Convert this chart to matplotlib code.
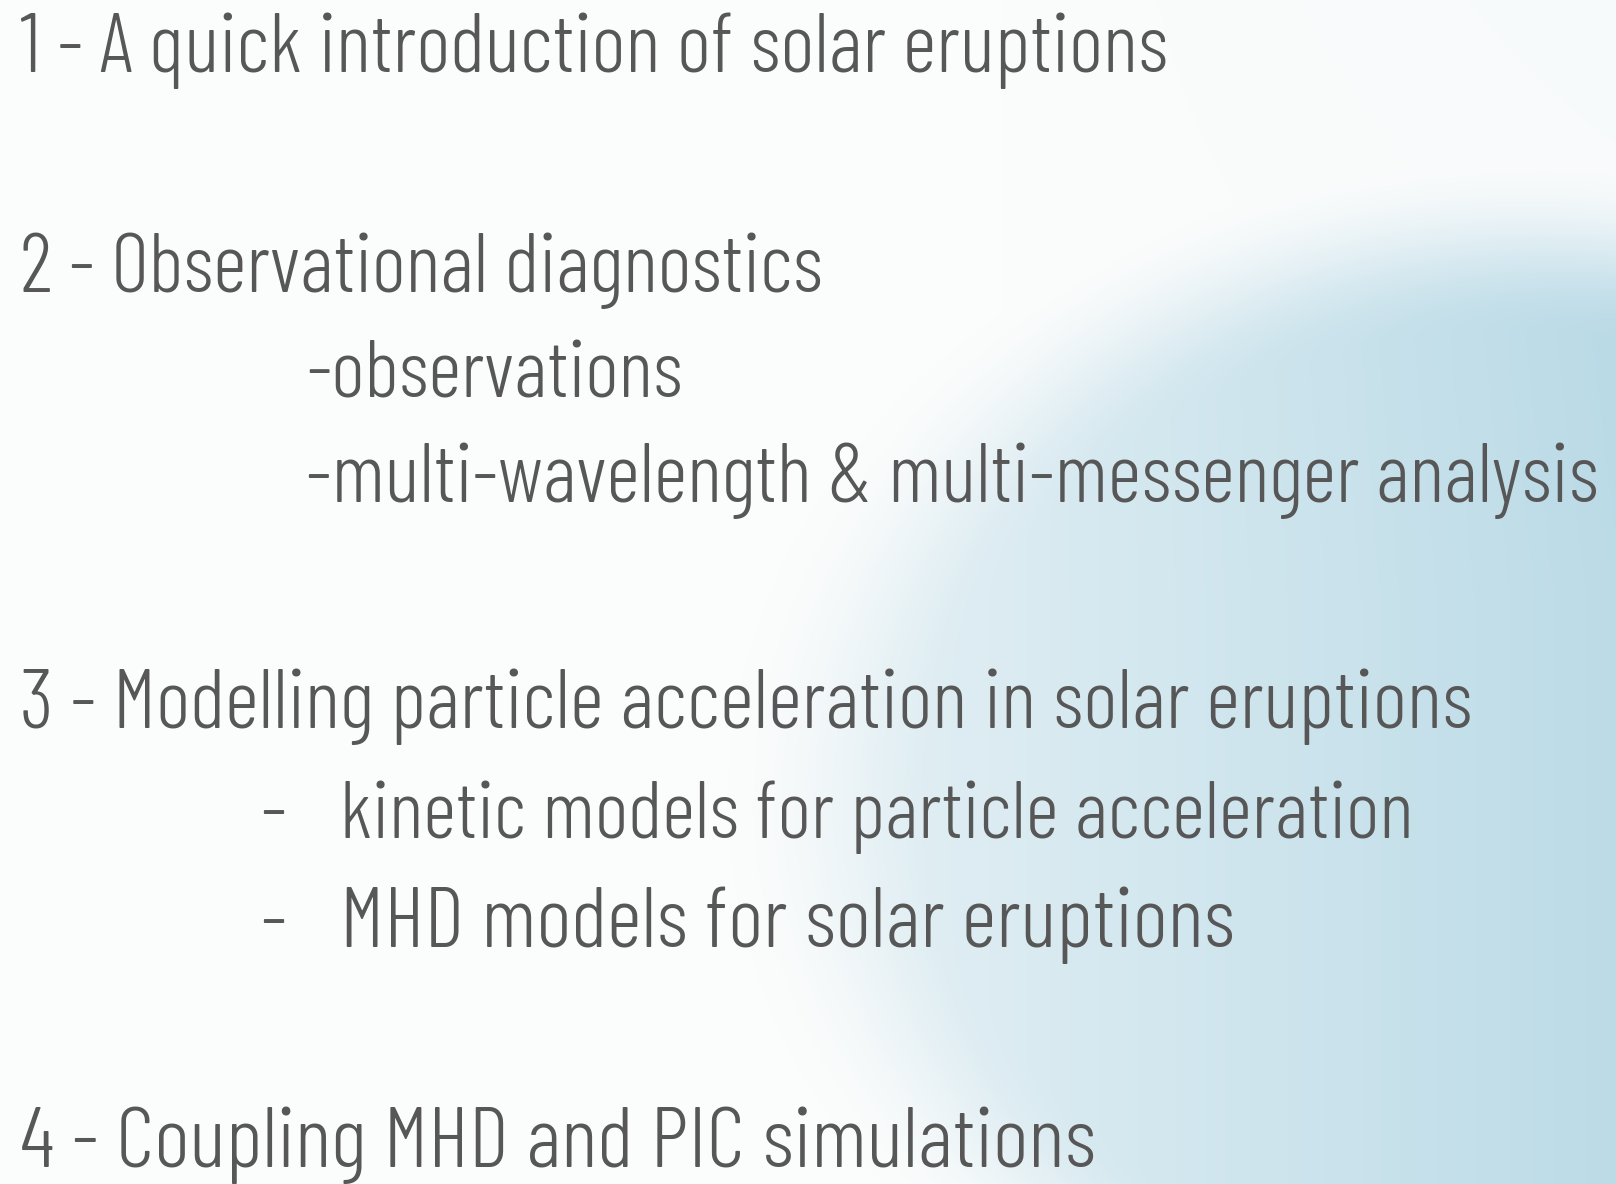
import numpy as np
import matplotlib
matplotlib.use("Agg")
import matplotlib.pyplot as plt
from matplotlib import font_manager as fm
from matplotlib.textpath import TextPath

W, H = 1616, 1184

# Contenido de la diapositiva
headings = ["1 - A quick introduction of solar eruptions",
            "2 - Observational diagnostics",
            "3 - Modelling particle acceleration in solar eruptions",
            "4 - Coupling MHD and PIC simulations"]
heading_base = [72, 292, 728, 1167]          # línea base en px
heading_end = [1165, 821, 1468, 1094]        # borde derecho en la referencia

sub_items = ["-observations",
             "-multi-wavelength & multi-messenger analysis"]
sub_base = [397, 502]
sub_end = [680, 1597]

bullets = ["kinetic models for particle acceleration",
           "MHD models for solar eruptions"]
bullet_base = [838, 947]
bullet_end = [1409, 1232]

txt_color = "#575757"
fam = ["Barlow Condensed", "DejaVu Sans"]
weight = 300

# tamaño de fuente para una altura de mayúscula de ~59 px
fp = fm.FontProperties(family=fam[0], weight=weight)
cap = TextPath((0, 0), "H", size=100, prop=fp).get_extents().height / 100
fs = 59 / cap * 72 / 100

fig = plt.figure(figsize=(W / 100, H / 100), dpi=100)

# Fondo: blanco a la izquierda, remolino azul claro a la derecha
ax = fig.add_axes([0, 0, 1, 1])
ax.set_xlim(0, W)
ax.set_ylim(H, 0)
ax.axis("off")
X, Y = np.meshgrid(np.arange(W), np.arange(H))
d = np.sqrt(((X - 1500) / 690) ** 2 + ((Y - 800) / 570) ** 2)
inside = np.clip((1.12 - d) / 0.30, 0, 1)
inside = inside * inside * (3 - 2 * inside)
t = inside * (0.30 + 0.50 * np.clip((X - 850) / 766, 0, 1))
t += 0.05 * np.clip((X - 1000) / 616, 0, 1) * np.clip(1 - Y / 600, 0, 1)
white = np.array([251, 252, 252]) / 255
blue = np.array([172, 211, 226]) / 255
img = white[None, None, :] * (1 - t[..., None]) + blue[None, None, :] * t[..., None]
ax.imshow(np.clip(img, 0, 1), extent=(0, W, H, 0), aspect="auto", interpolation="bilinear")

def put(x, y, s, x_end=None):
    size = fs
    if x_end is not None:
        w = TextPath((0, 0), s, size=100, prop=fp).get_extents().x1 / 100 * fs * 100 / 72
        size = fs * np.clip((x_end - x) / w, 0.95, 1.05)
    fig.text(x / W, 1 - y / H, s, ha="left", va="baseline", fontsize=size,
             family=fam, weight=weight, color=txt_color)

for s, b, e in zip(headings, heading_base, heading_end):
    put(20, b, s, e)
for s, b, e in zip(sub_items, sub_base, sub_end):
    put(306, b, s, e)
for s, b, e in zip(bullets, bullet_base, bullet_end):
    put(260, b, "-")
    put(340, b, s, e)

fig.savefig("out.png", dpi=100)
